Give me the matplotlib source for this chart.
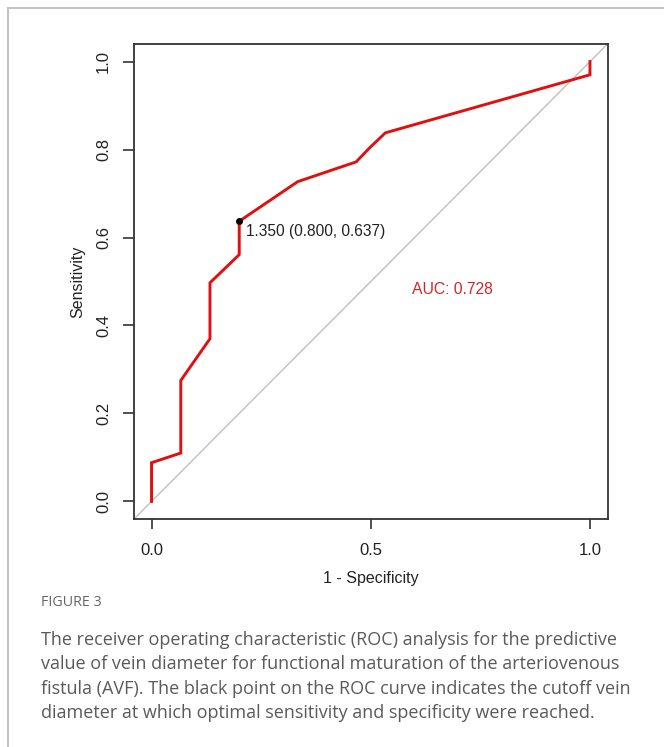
import matplotlib
matplotlib.use("Agg")
import matplotlib.pyplot as plt
from matplotlib.lines import Line2D

# ROC curve data (1 - specificity, sensitivity)
fpr = [0.0, 0.0, 0.0667, 0.0667, 0.1333, 0.1333, 0.2, 0.2, 0.3333, 0.4667, 0.4975, 0.5333, 1.0, 1.0]
tpr = [0.0, 0.088, 0.110, 0.275, 0.370, 0.497, 0.561, 0.637, 0.727, 0.772, 0.804, 0.838, 0.970, 1.0]
cutoff_fpr = 0.2
cutoff_tpr = 0.637
cutoff_label = "1.350 (0.800, 0.637)"
auc_label = "AUC: 0.728"
x_ticks = [0.0, 0.5, 1.0]
x_ticklabels = ["0.0", "0.5", "1.0"]
y_ticks = [0.0, 0.2, 0.4, 0.6, 0.8, 1.0]
y_ticklabels = ["0.0", "0.2", "0.4", "0.6", "0.8", "1.0"]

W, H = 664, 747
fig = plt.figure(figsize=(W / 100, H / 100), dpi=100)
fig.patch.set_facecolor("white")

# outer frame (left and top visible)
fig.add_artist(Line2D([7.5 / W, 7.5 / W], [0, 1 - 7.5 / H], color="#c4c4c4", lw=1.5, transform=fig.transFigure))
fig.add_artist(Line2D([7.5 / W, 1.0], [1 - 7.5 / H, 1 - 7.5 / H], color="#c4c4c4", lw=1.5, transform=fig.transFigure))

ax_l, ax_r, ax_t, ax_b = 134, 607.5, 44, 519
ax = fig.add_axes([ax_l / W, 1 - ax_b / H, (ax_r - ax_l) / W, (ax_b - ax_t) / H])

font = "Liberation Sans"
ax.set_xlim(-0.04, 1.04)
ax.set_ylim(-0.04, 1.04)

# diagonal reference line across the full box
ax.plot([-0.04, 1.04], [-0.04, 1.04], color="#c0c0c0", lw=1.0, zorder=1)
ax.plot(fpr, tpr, color="#e01010", lw=2.1, zorder=3, solid_joinstyle="miter")
ax.plot([cutoff_fpr], [cutoff_tpr], "o", color="black", ms=4, zorder=4)
ax.text(cutoff_fpr + 0.015, cutoff_tpr - 0.023, cutoff_label, fontsize=11.2, family=font,
        color="#222222", ha="left", va="center")
ax.text(0.686, 0.4815, auc_label, fontsize=11.3, family=font, color="#d02828", ha="center", va="center")

for s in ax.spines.values():
    s.set_color("#333333")
    s.set_linewidth(1.3)

ax.set_xticks(x_ticks)
ax.set_xticklabels(x_ticklabels, family=font, fontsize=12, color="#222222")
ax.set_yticks(y_ticks)
ax.set_yticklabels(y_ticklabels, family=font, fontsize=12, color="#222222", rotation=90)
for lbl in ax.get_yticklabels():
    lbl.set_va("center")
ax.tick_params(axis="x", length=7, width=1.2, color="#333333", pad=10)
ax.tick_params(axis="y", length=8, width=1.2, color="#333333", pad=8.5)

ax.set_xlabel("1 - Specificity", family=font, fontsize=11.5, color="#222222", labelpad=10)
ax.set_ylabel("Sensitivity", family=font, fontsize=11.5, color="#222222", labelpad=8)

# caption
fig.text(41 / W, 1 - 603 / H, "FIGURE 3", family="Open Sans", fontsize=10.3, color="#666666",
         ha="left", va="center")
caption = [
    "The receiver operating characteristic (ROC) analysis for the predictive",
    "value of vein diameter for functional maturation of the arteriovenous",
    "fistula (AVF). The black point on the ROC curve indicates the cutoff vein",
    "diameter at which optimal sensitivity and specificity were reached.",
]
for i, line in enumerate(caption):
    fig.text(41 / W, 1 - (640 + 24.3 * i) / H, line, family="Open Sans", fontsize=12.95,
             color="#5a5a5a", ha="left", va="center")

fig.savefig("out.png", dpi=100, facecolor="white")
